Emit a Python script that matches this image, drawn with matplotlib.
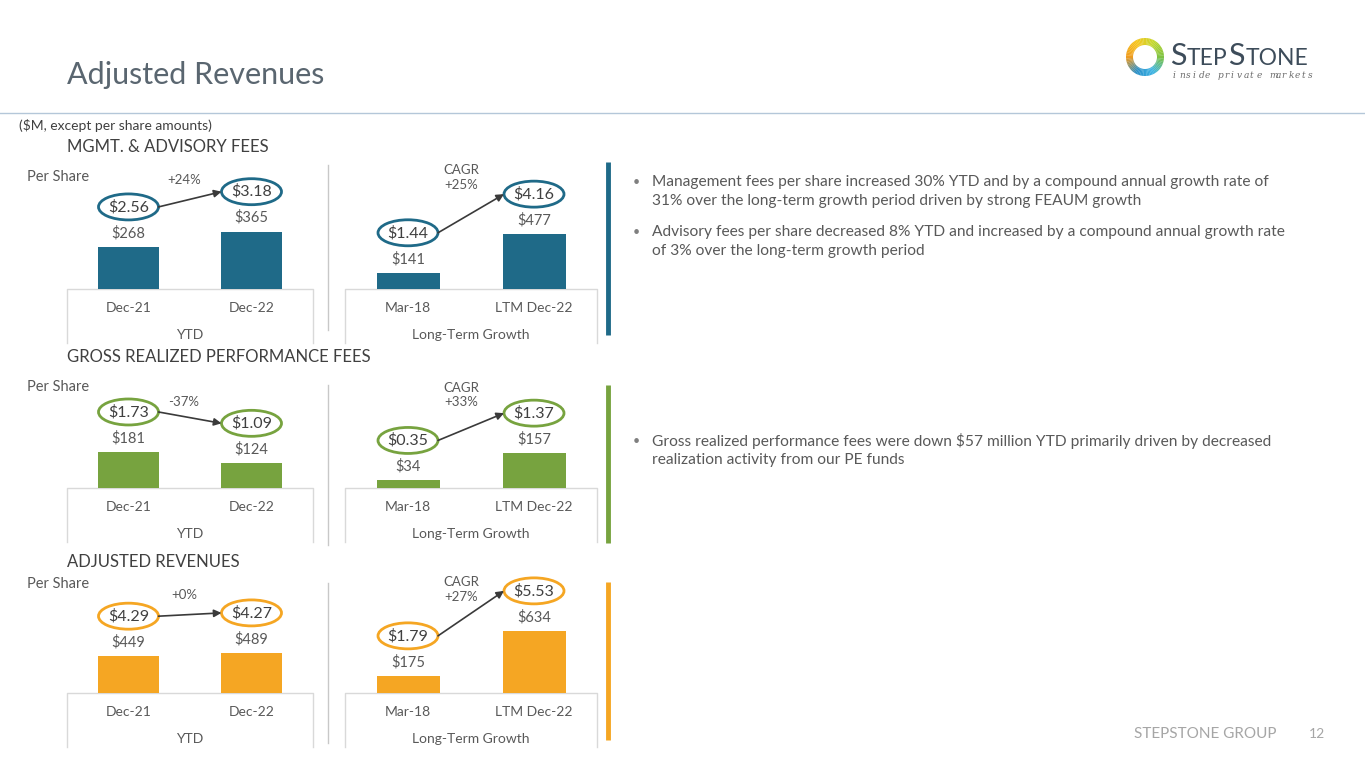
import numpy as np
import matplotlib
matplotlib.use('Agg')
import matplotlib.pyplot as plt
import matplotlib.transforms as mtransforms
from matplotlib.patches import Ellipse, Wedge
from matplotlib.colors import LinearSegmentedColormap

plt.rcParams['font.family'] = ['Lato', 'DejaVu Sans']

# ---- data ----
section_titles = ['MGMT. & ADVISORY FEES', 'GROSS REALIZED PERFORMANCE FEES', 'ADJUSTED REVENUES']
ytd_cats = ['Dec-21', 'Dec-22']
lt_cats = ['Mar-18', 'LTM Dec-22']

mgmt_ytd = [268, 365]
mgmt_ytd_ps = [2.56, 3.18]
mgmt_lt = [141, 477]
mgmt_lt_ps = [1.44, 4.16]

perf_ytd = [181, 124]
perf_ytd_ps = [1.73, 1.09]
perf_lt = [34, 157]
perf_lt_ps = [0.35, 1.37]

rev_ytd = [449, 489]
rev_ytd_ps = [4.29, 4.27]
rev_lt = [175, 634]
rev_lt_ps = [1.79, 5.53]

ytd_change = ['+24%', '-37%', '+0%']
lt_cagr = ['+25%', '+33%', '+27%']

bullets_mgmt = [
    ['Management fees per share increased 30% YTD and by a compound annual growth rate of',
     '31% over the long-term growth period driven by strong FEAUM growth'],
    ['Advisory fees per share decreased 8% YTD and increased by a compound annual growth rate',
     'of 3% over the long-term growth period'],
]
bullets_perf = [
    ['Gross realized performance fees were down $57 million YTD primarily driven by decreased',
     'realization activity from our PE funds'],
]

# ---- layout ----
W, H = 1365, 768
colors = ['#1f6a88', '#77a33f', '#f5a623']
baseline_y = [289, 488, 693]
heading_y = [147, 357, 562]
per_share_y = [177, 387, 584]
ytd_scale = [0.157, 0.199, 0.082]   # px per $M
lt_scale = [0.115, 0.222, 0.098]
ytd_pct_off = [19, 16, 20]
lt_pct_off = [36, 32, 24]
sep_span = [(165, 330), (385, 545), (583, 743)]
accent_span = [(162, 335), (385, 543), (582, 740)]
AH = 140
grey = '#595959'
dark = '#404040'

fig = plt.figure(figsize=(W / 100, H / 100), dpi=100)
fig.patch.set_facecolor('white')

ov = fig.add_axes([0, 0, 1, 1])
ov.set_xlim(0, W)
ov.set_ylim(H, 0)
ov.axis('off')


def draw_panel(left, right, base, values, per_share, cats, group, scale, color,
               change, pct_off, pct_x, cagr=False):
    width = right - left
    ax = fig.add_axes([left / W, 1 - base / H, width / W, AH / H])
    ymax = AH / scale
    ax.set_xlim(-0.5, 1.5)
    ax.set_ylim(0, ymax)
    ax.axis('off')
    x = np.arange(len(values))
    ax.bar(x, values, width=0.5, color=color, zorder=2)
    for xi, v in zip(x, values):
        ax.annotate('$%d' % v, (xi, v), xytext=(0, 14), textcoords='offset pixels',
                    ha='center', va='center', fontsize=10.5, color=grey)

    blend = mtransforms.blended_transform_factory(ax.transData, ax.transAxes)
    ew = 60 * 2.0 / width
    eh = 26.0 / AH
    ell_y = [v / ymax + 40.0 / AH for v in values]
    for xi, ps, ey in zip(x, per_share, ell_y):
        ax.add_patch(Ellipse((xi, ey), ew, eh, transform=blend, facecolor='white',
                             edgecolor=color, lw=2, clip_on=False, zorder=3))
        ax.text(xi, ey, '$%.2f' % ps, transform=blend, ha='center', va='center',
                fontsize=11.5, color=dark, zorder=4)
    ax.annotate('', xy=(1 - ew / 2, ell_y[1]), xytext=(ew / 2, ell_y[0]),
                xycoords=blend, textcoords=blend,
                arrowprops=dict(arrowstyle='-|>', color='#3a3a3a', lw=1.2,
                                mutation_scale=11, shrinkA=0, shrinkB=0))
    ty = (ell_y[0] + ell_y[1]) / 2 + pct_off / AH
    txt = 'CAGR\n' + change if cagr else change
    ax.text(pct_x, ty, txt, transform=blend, ha='center', va='center',
            fontsize=9.5, color=grey, linespacing=1.25)

    # category box
    ax.plot([0, 0, 1, 1], [-54.0 / AH, 0, 0, -54.0 / AH], transform=ax.transAxes,
            color='#d9d9d9', lw=1, clip_on=False, zorder=1)
    for xi, c in zip(x, cats):
        ax.text(xi, -19.0 / AH, c, transform=blend, ha='center', va='center',
                fontsize=10, color=grey)
    ax.text(0.5, -46.0 / AH, group, transform=ax.transAxes, ha='center', va='center',
            fontsize=10, color=grey)


ytd_values = [mgmt_ytd, perf_ytd, rev_ytd]
ytd_ps = [mgmt_ytd_ps, perf_ytd_ps, rev_ytd_ps]
lt_values = [mgmt_lt, perf_lt, rev_lt]
lt_ps = [mgmt_lt_ps, perf_lt_ps, rev_lt_ps]

for i in range(3):
    ov.text(67, heading_y[i], section_titles[i], ha='left', va='center',
            fontsize=12, color=dark)
    ov.text(27, per_share_y[i], 'Per Share', ha='left', va='center',
            fontsize=10.5, color=grey)
    draw_panel(67, 313, baseline_y[i], ytd_values[i], ytd_ps[i], ytd_cats, 'YTD',
               ytd_scale[i], colors[i], ytd_change[i], ytd_pct_off[i], 0.45)
    draw_panel(345, 597, baseline_y[i], lt_values[i], lt_ps[i], lt_cats,
               'Long-Term Growth', lt_scale[i], colors[i], lt_cagr[i], lt_pct_off[i],
               0.42, cagr=True)
    ov.plot([328, 328], sep_span[i], color='#c8c8c8', lw=1)
    ov.plot([608, 608], accent_span[i], color=colors[i], lw=3.5, solid_capstyle='butt')


# bullets
def bullet_block(items, y0, gap):
    y = y0
    for lines in items:
        ov.text(633, y, u'\u2022', ha='left', va='center', fontsize=9, color='#7f7f7f')
        for ln in lines:
            ov.text(652, y, ln, ha='left', va='center', fontsize=11.2, color=grey)
            y += 19
        y += gap

bullet_block(bullets_mgmt, 182, 12)
bullet_block(bullets_perf, 441, 12)

# title, header rule, notes
ov.text(67, 75, 'Adjusted Revenues', ha='left', va='center', fontsize=22, color='#5a6670')
ov.plot([0, W], [113, 113], color='#b4c7d9', lw=1)
ov.text(19, 126, '($M, except per share amounts)', ha='left', va='center',
        fontsize=10, color=dark)

# footer
ov.text(1276, 734, 'STEPSTONE GROUP', ha='right', va='center', fontsize=11, color='#a6a6a6')
ov.text(1317, 734, '12', ha='center', va='center', fontsize=10, color='#a6a6a6')

# logo ring
ring_cmap = LinearSegmentedColormap.from_list(
    'ring', ['#7dc242', '#c4d82e', '#f7c51e', '#f09a1e', '#2a8fc8', '#3fb5e5', '#7dc242'])
n = 72
for k in range(n):
    t1 = k * 360.0 / n
    screen = (360 - (t1 + 2.5)) % 360
    ov.add_patch(Wedge((1145, 57), 19, t1, t1 + 360.0 / n + 0.5, width=7,
                       color=ring_cmap(screen / 360.0), lw=0))

renderer = fig.canvas.get_renderer()
xpos = 1170
for piece, fs in [('S', 22), ('TEP', 16.5), ('S', 22), ('TONE', 16.5)]:
    t = ov.text(xpos, 65, piece, ha='left', va='baseline', fontsize=fs, color='#3d4c5a')
    bb = t.get_window_extent(renderer)
    xpos += bb.width + 0.5
for k, ch in enumerate('inside private markets'):
    ov.text(1173 + k * 6.4, 76, ch, ha='left', va='center', fontsize=6.5,
            family='DejaVu Serif', style='italic', color='#6b6b6b')

fig.savefig('out.png', dpi=100, facecolor='white')
